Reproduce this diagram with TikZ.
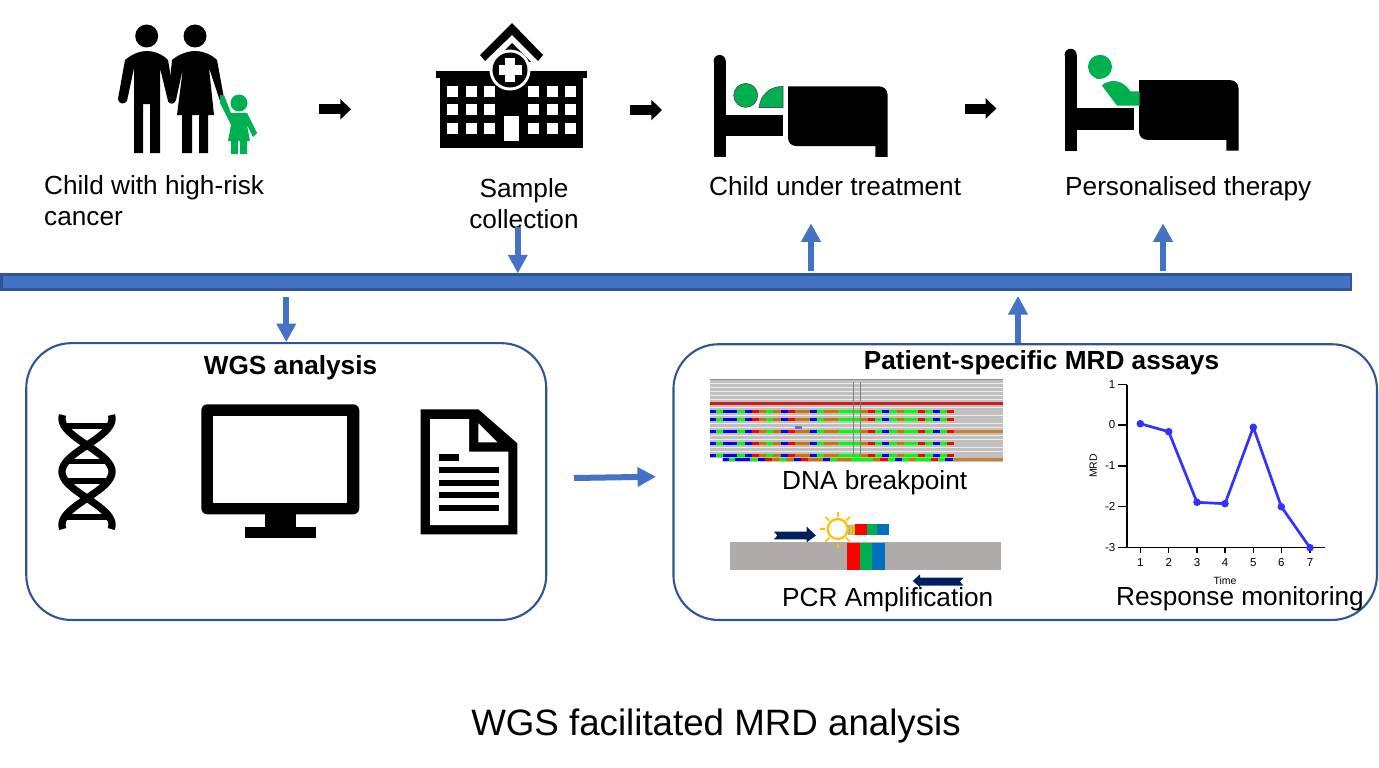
\documentclass[tikz,border=0pt]{standalone}
\usepackage{fontspec}
\setmainfont{Liberation Sans}
\usetikzlibrary{arrows.meta}
\definecolor{kidgreen}{HTML}{00B050}
\definecolor{barblue}{HTML}{4472C4}
\definecolor{edgeblue}{HTML}{2F5597}
\definecolor{navyarrow}{HTML}{002060}
\definecolor{gelgrey}{HTML}{AFABAB}
\definecolor{readgrey}{HTML}{C0C0C0}
\definecolor{plotblue}{HTML}{3333FF}
\definecolor{bulbgold}{HTML}{FFC000}
\definecolor{igvb}{HTML}{0000FF}
\definecolor{igvg}{HTML}{00FF00}
\definecolor{igvr}{HTML}{FF0000}
\definecolor{igvo}{HTML}{D17300}
\definecolor{probeblue}{HTML}{0070C0}
\tikzset{
	label/.style={font=\fontsize{26.2}{31}\selectfont, inner sep=0pt},
	heading/.style={font=\bfseries\fontsize{26.2}{31}\selectfont, inner sep=0pt},
	ticktext/.style={font=\fontsize{11.5}{13}\selectfont, inner sep=0pt},
	panel/.style={draw=edgeblue, line width=2.1pt, rounded corners=45pt, anchor=north west, inner sep=0pt},
	bluearrow/.style={draw=barblue, line width=6pt, -{Triangle[length=18.5pt,width=18.7pt]}},
	blackarrow/.style={draw=black, line width=10pt, -{Triangle[length=10.7pt,width=20pt]}},
	rung/.style={draw=black, line width=5.5pt},
	strand/.style={draw=black, line width=7.3pt},
	ray/.style={draw=bulbgold, line width=1.6pt},
	axisline/.style={draw=black, line width=1.2pt}
}
\def\bedframe#1{\begin{scope}[shift={#1}]
	\fill (713.6,61) rectangle (725.7,156.8);
	\fill (719.65,61) circle (6.05);
	\fill (725.7,114.6) rectangle (783,135.7);
	\fill (788,86.4) -- (879.5,86.4) arc (90:0:8pt) -- (887.5,156.8) -- (875.4,156.8) -- (875.4,146) -- (796,146) arc (270:180:8pt) -- cycle;
\end{scope}}
\def\igvrow#1#2{\foreach \a/\b/\c in {0/18/b,18/38/g,38/60/b,60/82/b,82/105/g,105/126/b,126/148/r,148/168/o,168/190/g,190/213/o,213/234/b,234/256/r,256/300/o,300/322/b,322/342/g,342/385/o,385/450/g,450/473/o,473/495/r,495/516/g,516/538/b,538/560/g,560/581/o,581/624/g,624/646/r,646/668/g,668/690/b,690/711/g,711/732/r}{
	\fill[igv\c] ({710+\a/3+#2},#1) rectangle ({710+\b/3+#2},#1+3);
}}

\begin{document}
\begin{tikzpicture}[x=1pt, y=-1pt]
	%%%%% START %%%%%
	\useasboundingbox (0,0) rectangle (1379,768);

	% bar and panels
	\node[draw=edgeblue, fill=barblue, line width=2.6pt, anchor=north west, minimum width=1349.7pt, minimum height=14.8pt, inner sep=0pt] (bar) at (0,273.3) {};
	\node[panel, minimum width=520pt, minimum height=276.8pt] (wgsbox) at (25.2,342.1) {};
	\node[panel, minimum width=703.5pt, minimum height=275.7pt] (mrdbox) at (672.4,343.2) {};

	% parents and child
	\fill (146.7,36) circle (11.5);
	\fill (125,60) .. controls (132,54) and (140,51) .. (147,51) .. controls (154,51) and (162,54) .. (168,60) -- (175,100) .. controls (175,104) and (170,105) .. (168,101) -- (160,68) -- (160,153) -- (150,153) -- (150,104) -- (143,104) -- (143,153) -- (134,153) -- (134,68) -- (127,101) .. controls (125,105) and (118,104) .. (118,99) -- cycle;
	\fill (195,36) circle (11.5);
	\fill (172,60) .. controls (179,54) and (188,51) .. (195,51) .. controls (202,51) and (211,54) .. (217,60) -- (224,98) -- (221,104) -- (209,68) -- (214,115) -- (208,115) -- (208,153) -- (199,153) -- (199,115) -- (192,115) -- (192,153) -- (182,153) -- (182,115) -- (177,115) -- (183,68) -- (176,100) .. controls (175,104) and (170,105) .. (168,101) -- cycle;
	\fill[kidgreen] (239,103) circle (8.5);
	\fill[kidgreen] (220,95) -- (224,95) -- (231,113) -- (247,113) -- (257,133) -- (253,137) -- (247,125) -- (250,141) -- (247,141) -- (247,154) -- (240,154) -- (240,141) -- (238,141) -- (238,154) -- (231,154) -- (231,141) -- (228,141) -- (231,125) -- (220,103) -- cycle;

	% hospital
	\fill (512,23) -- (480,55) -- (485,61) -- (512,35) -- (538,61) -- (543,55) -- cycle;
	\fill (493,62) -- (512,43) -- (531,62) -- cycle;
	\fill (436,71) rectangle (587,78);
	\fill (440,78) rectangle (583,148);
	\fill[white] (510,70) circle (20.5);
	\fill (510,70) circle (17.5);
	\fill[white] (505,58.5) rectangle (515,82);
	\fill[white] (498.5,65) rectangle (522,75);
	\foreach \wx in {447.3,465.7,484,528.3,546.7,565}{
		\foreach \wy in {86,104.3,122.7}{
			\fill[white] (\wx,\wy) rectangle (\wx+11,\wy+11);
		}
	}
	\fill[white] (504,115.7) rectangle (519,141);

	% beds
	\bedframe{(0,0)}
	\draw[fill=kidgreen, draw=black!70, line width=0.6pt] (745.7,95.4) circle (12);
	\draw[fill=kidgreen, draw=black!70, line width=0.6pt] (759,107.5) .. controls (761,93) and (771,86.4) .. (783,86.4) -- (783,107.5) -- cycle;
	\bedframe{(351,-6.2)}
	\fill[kidgreen] (1100,66.8) circle (12);
	\fill[kidgreen] (1090.5,73) -- (1097,79) -- (1104,78) -- cycle;
	\fill[kidgreen] (1101.8,85.4) .. controls (1106,82) and (1110,81) .. (1114,81) .. controls (1121,81) and (1126,85) .. (1130.4,91.4) -- (1139.6,91.4) -- (1139.6,105.7) -- (1117,105.7) -- cycle;

	% top arrows
	\coordinate (famout) at (319,109.3);
	\coordinate (hospin) at (351,109.3);
	\coordinate (hospout) at (630,110);
	\coordinate (bedin) at (662,110);
	\coordinate (bedout) at (965,108.5);
	\coordinate (therin) at (996.4,108.5);
	\draw[blackarrow] (famout) -- (hospin);
	\draw[blackarrow] (hospout) -- (bedin);
	\draw[blackarrow] (bedout) -- (therin);

	% top labels
	\node[label, anchor=west, align=left] (childlabel) at (44,200.5) {Child with high-risk\\cancer};
	\node[label, align=center] (samplelabel) at (524,203.5) {Sample\\collection};
	\node[label, anchor=base west] (treatlabel) at (709,195) {Child under treatment};
	\node[label, anchor=base west] (therapylabel) at (1065,195) {Personalised therapy};

	% blue arrows
	\coordinate (samplefoot) at (517.8,227);
	\coordinate (treathead) at (811,223.3);
	\coordinate (therapyhead) at (1163,223.3);
	\coordinate (wgstail) at (286.3,297.3);
	\coordinate (mrdhead) at (1018,296);
	\coordinate (flowtail) at (574,478);
	\coordinate (flowhead) at (656,476.7);
	\draw[bluearrow] (samplefoot) -- (samplefoot |- bar.north);
	\draw[bluearrow] ([yshift=2.3pt]treathead |- bar.north) -- (treathead);
	\draw[bluearrow] ([yshift=2.3pt]therapyhead |- bar.north) -- (therapyhead);
	\draw[bluearrow] (wgstail) -- (wgstail |- wgsbox.north);
	\draw[bluearrow] (mrdhead |- mrdbox.north) -- (mrdhead);
	\draw[bluearrow] (flowtail) -- (flowhead);

	% WGS panel
	\node[heading] (wgstitle) at (290.5,368) {WGS analysis};
	\draw[strand] plot[domain=415:529, samples=60] ({87+25*cos((\x-418.7)*3.396)}, \x);
	\draw[strand] plot[domain=415:529, samples=60] ({87-25*cos((\x-418.7)*3.396)}, \x);
	\draw[rung] (66,426) -- (108,426);
	\draw[rung] (66,461.7) -- (108,461.7);
	\draw[rung] (66,481) -- (108,481);
	\draw[rung] (66,517) -- (108,517);

	\fill[rounded corners=6pt] (201.3,404.3) rectangle (359.3,514.3);
	\fill[white] (212.7,416) rectangle (347.3,503.3);
	\fill (264.7,514) rectangle (296,527.3);
	\fill (244.7,527.3) rectangle (316,538.3);

	\fill (420.7,409.3) -- (478.3,409.3) -- (517.3,443.3) -- (517.3,534.3) -- (420.7,534.3) -- cycle;
	\fill[white] (430,419) -- (469,419) -- (469,451.7) -- (508.3,451.7) -- (508.3,525) -- (430,525) -- cycle;
	\fill[white] (478.3,423.3) -- (478.3,442.3) -- (497.3,442.3) -- cycle;
	\fill (439.3,454.3) rectangle (459.3,461);
	\foreach \ly in {467,479.7,492,504.7}{
		\fill (439.3,\ly) rectangle (498.7,\ly+6.2);
	}

	% MRD panel
	\node[heading] (mrdtitle) at (1041.5,363) {Patient-specific MRD assays};

	% read pile
	\fill[readgrey] (710,380) rectangle (1003.3,462);
	\draw[black!45, line width=0.7pt] (710,379.5) -- (1003.3,379.5);
	\foreach \ry in {383,387,391,395,399,407,415,423,427,435,439,447,451}{
		\draw[black!8, line width=0.6pt] (710,\ry) -- (1003.3,\ry);
	}
	\fill[white] (710,458) rectangle (722,463);
	\fill[red!80!black!90] (710,402) rectangle (1003.3,405);
	\foreach \ry in {409.8,417.8,429.8,441.8,453.8}{
		\igvrow{\ry}{0}
	}
	\igvrow{458}{12.5}
	\fill[igvb!60] (795,426) rectangle (802.3,429);
	\fill[brown!80!orange] (954,430) rectangle (1003.3,433);
	\fill[brown!80!orange] (954,458) rectangle (1003.3,461);
	\draw[black!50, line width=0.7pt] (853.7,382) -- (853.7,457);
	\draw[black!50, line width=0.7pt] (860.7,382) -- (860.7,457);
	\node[label, anchor=base west] (dnalabel) at (782,489) {DNA breakpoint};

	% PCR sketch
	\fill[gelgrey] (730,541.7) rectangle (1000.7,570);
	\fill[igvr] (847,542.5) rectangle (860,570);
	\fill[kidgreen] (860,542.5) rectangle (872.3,570);
	\fill[probeblue] (872.3,542.5) rectangle (884.7,570);
	\fill[igvr] (855,524.3) rectangle (867,535);
	\fill[kidgreen] (867,524.3) rectangle (877.3,535);
	\fill[probeblue] (877.3,524.3) rectangle (889.3,535);
	\fill[gelgrey] (848,525) rectangle (855,535);
	\draw[bulbgold, line width=2.2pt] (837.7,529) circle (10);
	\draw[bulbgold, line width=1.2pt] (851,525) -- (851,535);
	\draw[bulbgold, line width=1.2pt] (854,525) -- (854,535);
	\draw[ray] (837.7,512) -- (837.7,517);
	\draw[ray] (825.3,517) -- (829.3,520.7);
	\draw[ray] (820,529) -- (825,529);
	\draw[ray] (825.3,541.7) -- (829.3,537.7);
	\draw[ray] (837.7,543) -- (837.7,548);
	\draw[ray] (846,537.7) -- (850,541.7);
	\draw[ray] (846,520.7) -- (850,517);
	\fill[navyarrow] (774,531.7) -- (806.7,531.7) -- (806.7,526.7) -- (816,535.5) -- (806.7,542.3) -- (806.7,539.3) -- (774,539.3) -- (777.3,535.5) -- cycle;
	\fill[navyarrow] (963.3,577.7) -- (920,577.7) -- (920,574.3) -- (912.7,581) -- (920,587.3) -- (920,585.7) -- (963.3,585.7) -- (960,581.5) -- cycle;
	\node[label, anchor=base west] (pcrlabel) at (782,606) {PCR Amplification};

	% response plot
	\draw[axisline] (1127,384.7) -- (1127,547.3) -- (1325,547.3);
	\foreach \ty/\tl in {384.7/1,425/0,466/-1,506.7/-2,547.3/-3}{
		\draw[axisline] (1118.3,\ty) -- (1127,\ty);
		\node[ticktext, anchor=east] at (1115.5,\ty) {\tl};
	}
	\foreach \tx/\tl in {1140.3/1,1168.7/2,1197/3,1225/4,1253.3/5,1281.3/6,1310/7}{
		\draw[axisline] (\tx,547.3) -- (\tx,552.5);
		\node[ticktext] at (\tx,562.7) {\tl};
	}
	\node[ticktext, font=\fontsize{10.5}{12}\selectfont] (timelabel) at (1225,581) {Time};
	\node[ticktext, font=\fontsize{10.5}{12}\selectfont, rotate=90] (mrdlabel) at (1093.3,466) {MRD};
	\draw[plotblue, line width=2.7pt, line join=round] (1140.3,423.7) -- (1168.7,431.7) -- (1197,502.3) -- (1225,503.7) -- (1253.3,427.3) -- (1281.3,506.7) -- (1310,547.7);
	\foreach \px/\py in {1140.3/423.7,1168.7/431.7,1197/502.3,1225/503.7,1253.3/427.3,1281.3/506.7,1310/547.7}{
		\fill[plotblue] (\px,\py) circle (3.8);
	}
	\node[label, anchor=base west] (resplabel) at (1116,605) {Response monitoring};

	% caption
	\node[font=\fontsize{36.7}{40}\selectfont, inner sep=0pt, anchor=base] (caption) at (716,735) {WGS facilitated MRD analysis};
	%%%%% END %%%%%
\end{tikzpicture}
\end{document}
